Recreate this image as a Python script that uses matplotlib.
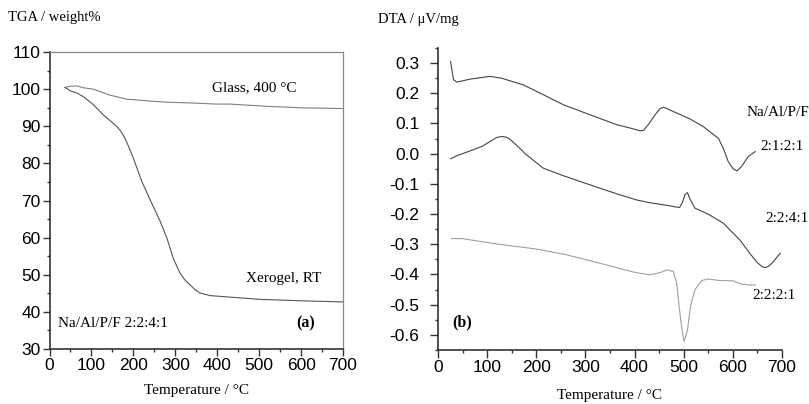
import matplotlib
matplotlib.use("Agg")
import matplotlib.pyplot as plt
from matplotlib.ticker import MultipleLocator, FormatStrFormatter

plt.rcParams['axes.unicode_minus'] = False

# ---- TGA data (panel a) ----
glass_T = [37, 49, 65, 81, 105, 120, 144, 160, 184, 200, 240, 280, 340, 398, 430, 517, 600, 700]
glass_w = [100.5, 100.8, 100.9, 100.4, 100.0, 99.4, 98.4, 98.0, 97.3, 97.2, 96.8, 96.5, 96.3, 96.0, 96.0, 95.4, 95.0, 94.8]

xero_T = [37, 49, 65, 81, 105, 128, 145, 160, 170, 180, 190, 200, 220, 240, 264, 280, 295, 311,
          323, 335, 347, 359, 383, 430, 500, 600, 700]
xero_w = [100.5, 99.6, 99.0, 98.0, 95.8, 93.1, 91.5, 90.0, 88.7, 86.8, 84.2, 81.4, 75.2, 70.2, 64.4,
          59.9, 54.5, 50.5, 48.6, 47.3, 46.0, 45.1, 44.4, 44.0, 43.4, 43.0, 42.7]

# ---- DTA data (panel b) ----
s2121_T = [25, 31, 37.5, 65, 105, 129, 173, 207, 255, 309, 364, 391, 411, 418, 428, 442, 452, 459,
           472, 513, 540, 571, 581, 591, 601, 609, 618, 632, 646]
s2121_v = [0.305, 0.245, 0.237, 0.247, 0.256, 0.250, 0.228, 0.201, 0.162, 0.129, 0.096, 0.085,
           0.076, 0.077, 0.096, 0.129, 0.149, 0.154, 0.145, 0.115, 0.090, 0.051, 0.018, -0.026,
           -0.050, -0.057, -0.043, -0.009, 0.007]

s2241_T = [25, 37.5, 71, 90, 105, 118, 129, 138, 146, 162, 180, 214, 255, 309, 364, 404, 430, 470,
           486, 492, 498, 503, 508, 513, 523, 550, 581, 615, 635, 650, 660, 666, 672, 680, 697]
s2241_v = [-0.017, -0.007, 0.013, 0.025, 0.040, 0.053, 0.057, 0.055, 0.048, 0.024, -0.004, -0.048,
           -0.073, -0.103, -0.133, -0.153, -0.162, -0.172, -0.177, -0.178, -0.160, -0.135, -0.129,
           -0.150, -0.180, -0.200, -0.230, -0.286, -0.330, -0.360, -0.374, -0.377, -0.374, -0.363,
           -0.330]

s2221_T = [27, 48, 119, 201, 262, 330, 398, 411, 431, 452, 466, 479, 486, 491, 496, 501, 508, 514,
           523, 537, 550, 574, 601, 618, 635, 646]
s2221_v = [-0.281, -0.281, -0.299, -0.316, -0.335, -0.363, -0.392, -0.396, -0.401, -0.394, -0.385,
           -0.390, -0.429, -0.507, -0.573, -0.622, -0.584, -0.507, -0.451, -0.420, -0.415, -0.420,
           -0.421, -0.432, -0.435, -0.435]

serif = 'Liberation Serif'
sans = 'Liberation Sans'

fig = plt.figure(figsize=(8.09, 4.04), dpi=100)

# ---------- Panel (a) ----------
ax1 = fig.add_axes([0.0612, 0.136, 0.3628, 0.735])
ax1.plot(glass_T, glass_w, color='#808080', lw=0.8)
ax1.plot(xero_T, xero_w, color='#555555', lw=0.8)
ax1.set_xlim(0, 700)
ax1.set_ylim(30, 110)
ax1.xaxis.set_major_locator(MultipleLocator(100))
ax1.xaxis.set_minor_locator(MultipleLocator(50))
ax1.yaxis.set_major_locator(MultipleLocator(10))
ax1.yaxis.set_minor_locator(MultipleLocator(5))
ax1.tick_params(which='both', direction='out', top=False, right=False, labelsize=12.5,
                width=1.0, color='#333333', pad=1.5)
ax1.tick_params(which='major', length=5)
ax1.tick_params(which='minor', length=2.5)
for lab in ax1.get_xticklabels() + ax1.get_yticklabels():
    lab.set_family(sans)
for s in ['left', 'bottom']:
    ax1.spines[s].set_color('#333333')
    ax1.spines[s].set_linewidth(1.2)
for s in ['top', 'right']:
    ax1.spines[s].set_color('#888888')
    ax1.spines[s].set_linewidth(0.9)
ax1.set_xlabel('Temperature / °C', family=serif, fontsize=11, labelpad=8)
ax1.text(388, 100.3, 'Glass, 400 °C', family=serif, fontsize=11, va='center', ha='left')
ax1.text(469, 48.9, 'Xerogel, RT', family=serif, fontsize=11, va='center', ha='left')
ax1.text(20, 37, 'Na/Al/P/F 2:2:4:1', family=serif, fontsize=11, va='center', ha='left')
ax1.text(588, 37, '(a)', family=serif, fontsize=11.5, weight='bold', va='center', ha='left')
fig.text(8 / 809, 1 - 18 / 404, 'TGA / weight%', family=serif, fontsize=10.5, va='center', ha='left')

# ---------- Panel (b) ----------
ax2 = fig.add_axes([0.5418, 0.1337, 0.4244, 0.7475])
ax2.plot(s2121_T, s2121_v, color='#444444', lw=0.8)
ax2.plot(s2241_T, s2241_v, color='#444444', lw=0.8)
ax2.plot(s2221_T, s2221_v, color='#a0a0a0', lw=0.8)
ax2.set_xlim(0, 700)
ax2.set_ylim(-0.65, 0.35)
ax2.xaxis.set_major_locator(MultipleLocator(100))
ax2.xaxis.set_minor_locator(MultipleLocator(50))
ax2.yaxis.set_major_locator(MultipleLocator(0.1))
ax2.yaxis.set_minor_locator(MultipleLocator(0.05))
ax2.yaxis.set_major_formatter(FormatStrFormatter('%.1f'))
ax2.tick_params(which='both', direction='out', top=False, right=False, labelsize=12.5,
                width=1.0, color='#333333')
ax2.tick_params(axis='x', pad=2)
ax2.tick_params(axis='y', pad=8)
ax2.tick_params(which='major', length=5.5)
ax2.tick_params(which='minor', length=2.5)
for lab in ax2.get_xticklabels() + ax2.get_yticklabels():
    lab.set_family(sans)
for s in ['top', 'right']:
    ax2.spines[s].set_visible(False)
for s in ['left', 'bottom']:
    ax2.spines[s].set_color('#333333')
    ax2.spines[s].set_linewidth(1.2)
ax2.set_xlabel('Temperature / °C', family=serif, fontsize=11, labelpad=10)
ax2.text(629, 0.135, 'Na/Al/P/F', family=serif, fontsize=11, va='center', ha='left', clip_on=False)
ax2.text(657, 0.024, '2:1:2:1', family=serif, fontsize=11, va='center', ha='left', clip_on=False)
ax2.text(667, -0.213, '2:2:4:1', family=serif, fontsize=11, va='center', ha='left', clip_on=False)
ax2.text(641, -0.468, '2:2:2:1', family=serif, fontsize=11, va='center', ha='left', clip_on=False)
ax2.text(29, -0.559, '(b)', family=serif, fontsize=11.5, weight='bold', va='center', ha='left')
fig.text(378 / 809, 1 - 20 / 404, 'DTA / μV/mg', family=serif, fontsize=10.5, va='center', ha='left')

fig.savefig('out.png', dpi=100)
